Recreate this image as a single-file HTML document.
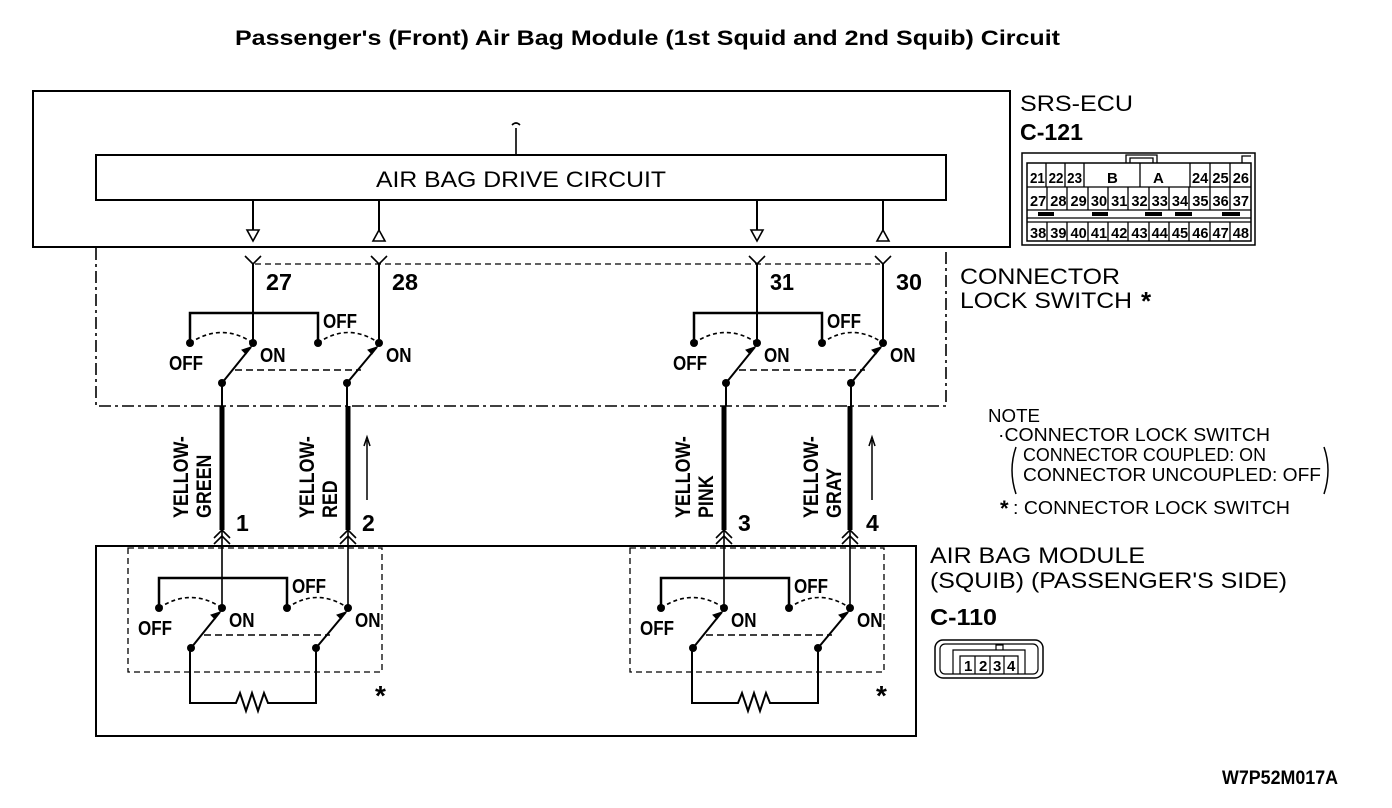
<!DOCTYPE html>
<html><head><meta charset="utf-8"><style>
html,body{margin:0;padding:0;background:#fff;}
svg{display:block;}
text{font-family:"Liberation Sans",sans-serif;fill:#000;}
.b{font-weight:bold;}
</style></head><body>
<svg width="1392" height="808" viewBox="0 0 1392 808" xmlns="http://www.w3.org/2000/svg">
<defs>
<g id="sw" stroke="#000" fill="none">
  <path d="M-63,343 V313 H65 V343" stroke-width="2.5"/>
  <path d="M-63,343 Q-31,322 0,343 M65,343 Q95,322 126,343" stroke-width="1.6" stroke-dasharray="4,3"/>
  <path d="M-18,370 H108" stroke-width="1.6" stroke-dasharray="7,4"/>
  <path d="M-31,383 L-2,347 M94,383 L124,347" stroke-width="2"/>
  <path d="M-2,347 l-9,3 l4,4 z M124,347 l-9,3 l4,4 z" fill="#000"/>
  <g fill="#000" stroke="none">
    <circle cx="-63" cy="343" r="4"/><circle cx="0" cy="343" r="4"/>
    <circle cx="65" cy="343" r="4"/><circle cx="126" cy="343" r="4"/>
    <circle cx="-31" cy="383" r="4"/><circle cx="94" cy="383" r="4"/>
  </g>
  <g stroke="none" fill="#000" font-weight="bold" font-size="20">
    <text transform="translate(-84,370) scale(0.85,1)" font-family="Liberation Sans">OFF</text>
    <text transform="translate(7,362) scale(0.85,1)" font-family="Liberation Sans">ON</text>
    <text transform="translate(70,328) scale(0.85,1)" font-family="Liberation Sans">OFF</text>
    <text transform="translate(133,362) scale(0.85,1)" font-family="Liberation Sans">ON</text>
  </g>
</g>
<g id="up" stroke="#000" fill="none" stroke-width="2">
  <path d="M0,200 V230 M126,200 V230"/>
  <path d="M-6,230 H6 L0,241 Z M120,241 H132 L126,230 Z" stroke-width="1.6"/>
  <path d="M-8,256 L0,264 L8,256 M118,256 L126,264 L134,256" stroke-width="1.6"/>
  <path d="M0,264 V343 M126,264 V343 M-31,383 V406 M94,383 V406"/>
</g>
<g id="low" stroke="#000" fill="none">
  <path d="M0,406 V530 M126,406 V530" stroke-width="5"/>
  <path d="M-8,538 L0,530 L8,538 M-8,544 L0,536 L8,544 M118,538 L126,530 L134,538 M118,544 L126,536 L134,544" stroke-width="1.6"/>
  <path d="M0,530 V608 M126,530 V608" stroke-width="1.6"/>
  <path d="M-32,648 V703 H14 l4,-10 l6,18 l6,-18 l6,18 l6,-18 l4,10 H94 V648" stroke-width="2"/>
  <rect x="-94" y="548" width="254" height="124" stroke-width="1.3" stroke-dasharray="6,4"/>
</g>
</defs>

<text x="235" y="45" class="b" font-size="21" textLength="825" lengthAdjust="spacingAndGlyphs">Passenger's (Front) Air Bag Module (1st Squid and 2nd Squib) Circuit</text>

<rect x="33" y="91" width="977" height="156" fill="none" stroke="#000" stroke-width="2"/>
<path d="M516,128 V155 M512,125 q4,-4 8,0" stroke="#000" stroke-width="1.6" fill="none"/>
<rect x="96" y="155" width="850" height="45" fill="none" stroke="#000" stroke-width="2"/>
<text x="376" y="187" font-size="22" textLength="290" lengthAdjust="spacingAndGlyphs">AIR BAG DRIVE CIRCUIT</text>

<path d="M96,248 V406 H946 V248" fill="none" stroke="#000" stroke-width="1.6" stroke-dasharray="12,4,3,4"/>
<path d="M255,264 H880" stroke="#000" stroke-width="1.3" stroke-dasharray="6,4"/>

<use href="#up" transform="translate(253,0)"/>
<use href="#up" transform="translate(757,0)"/>
<use href="#sw" transform="translate(253,0)"/>
<use href="#sw" transform="translate(757,0)"/>

<g class="b" font-size="23">
<text x="266" y="290" textLength="26" lengthAdjust="spacingAndGlyphs">27</text>
<text x="392" y="290" textLength="26" lengthAdjust="spacingAndGlyphs">28</text>
<text x="770" y="290" textLength="24" lengthAdjust="spacingAndGlyphs">31</text>
<text x="896" y="290" textLength="26" lengthAdjust="spacingAndGlyphs">30</text>
</g>

<text x="960" y="284" font-size="22" textLength="160" lengthAdjust="spacingAndGlyphs">CONNECTOR</text>
<text x="960" y="308" font-size="22" textLength="172" lengthAdjust="spacingAndGlyphs">LOCK SWITCH</text>
<text x="1141" y="310" class="b" font-size="26">*</text>

<rect x="96" y="546" width="820" height="190" fill="none" stroke="#000" stroke-width="2"/>
<use href="#low" transform="translate(222,0)"/>
<use href="#low" transform="translate(724,0)"/>
<use href="#sw" transform="translate(222,265)"/>
<use href="#sw" transform="translate(724,265)"/>
<text x="375" y="705" class="b" font-size="28">*</text>
<text x="876" y="705" class="b" font-size="28">*</text>

<g class="b" font-size="23">
<text x="236" y="531">1</text>
<text x="362" y="531">2</text>
<text x="738" y="531">3</text>
<text x="866" y="531">4</text>
</g>
<g class="b" font-size="21">
<text transform="translate(188,518) rotate(-90) scale(0.85,1)">YELLOW-</text>
<text transform="translate(211,518) rotate(-90) scale(0.85,1)">GREEN</text>
<text transform="translate(314,518) rotate(-90) scale(0.85,1)">YELLOW-</text>
<text transform="translate(337,518) rotate(-90) scale(0.85,1)">RED</text>
<text transform="translate(690,518) rotate(-90) scale(0.85,1)">YELLOW-</text>
<text transform="translate(713,518) rotate(-90) scale(0.85,1)">PINK</text>
<text transform="translate(818,518) rotate(-90) scale(0.85,1)">YELLOW-</text>
<text transform="translate(841,518) rotate(-90) scale(0.85,1)">GRAY</text>
</g>
<path d="M367,500 V440 M872,500 V440" stroke="#000" stroke-width="1.5"/>
<path d="M364,446 L367,437 L370,446 M869,446 L872,437 L875,446" stroke="#000" stroke-width="1.5" fill="none"/>

<text x="1020" y="111" font-size="22" textLength="113" lengthAdjust="spacingAndGlyphs">SRS-ECU</text>
<text x="1020" y="140" class="b" font-size="23" textLength="63" lengthAdjust="spacingAndGlyphs">C-121</text>
<rect x="1022" y="153" width="233" height="92" fill="none" stroke="#000" stroke-width="1.5"/>
<rect x="1027" y="163" width="224" height="78" fill="none" stroke="#000" stroke-width="1.5"/>
<path d="M1126,163 V155 H1157 V163 M1130,163 V158 H1153 V163 M1140,163 V187" stroke="#000" stroke-width="1.3" fill="none"/>
<path d="M1242,163 V156 H1251" stroke="#000" stroke-width="1.3" fill="none"/>
<g stroke="#000" stroke-width="1.3" fill="none">
<path d="M1027,187 H1251 M1027,210 H1251 M1027,218 H1251 M1027,222 H1251"/>
<path d="M1046,163 V187 M1065,163 V187 M1084,163 V187 M1190,163 V187 M1210,163 V187 M1230,163 V187"/>
<path d="M1047,187 V210 M1067,187 V210 M1088,187 V210 M1108,187 V210 M1128,187 V210 M1149,187 V210 M1169,187 V210 M1189,187 V210 M1210,187 V210 M1230,187 V210"/>
<path d="M1047,222 V241 M1067,222 V241 M1088,222 V241 M1108,222 V241 M1128,222 V241 M1149,222 V241 M1169,222 V241 M1189,222 V241 M1210,222 V241 M1230,222 V241"/>
</g>
<path d="M1038,214 H1054 M1092,214 H1108 M1145,214 H1162 M1175,214 H1192 M1222,214 H1240" stroke="#000" stroke-width="4"/>
<g class="b" font-size="15">
<text x="1030" y="183" textLength="52" lengthAdjust="spacingAndGlyphs">21 22 23</text>
<text x="1107" y="183">B</text><text x="1153" y="183">A</text>
<text x="1192" y="183" textLength="57" lengthAdjust="spacingAndGlyphs">24 25 26</text>
<text x="1030" y="206" textLength="219" lengthAdjust="spacingAndGlyphs">27 28 29 30 31 32 33 34 35 36 37</text>
<text x="1030" y="238" textLength="219" lengthAdjust="spacingAndGlyphs">38 39 40 41 42 43 44 45 46 47 48</text>
</g>

<text x="988" y="422" font-size="18" textLength="52" lengthAdjust="spacingAndGlyphs">NOTE</text>
<text x="998" y="441" font-size="18" textLength="272" lengthAdjust="spacingAndGlyphs">·CONNECTOR LOCK SWITCH</text>
<text x="1023" y="461" font-size="18" textLength="243" lengthAdjust="spacingAndGlyphs">CONNECTOR COUPLED: ON</text>
<text x="1023" y="481" font-size="18" textLength="298" lengthAdjust="spacingAndGlyphs">CONNECTOR UNCOUPLED: OFF</text>
<path d="M1016,447 Q1008,470 1016,494 M1324,447 Q1332,470 1324,494" stroke="#000" stroke-width="1.5" fill="none"/>
<text x="1000" y="516" class="b" font-size="22">*</text>
<text x="1013" y="514" font-size="18" textLength="277" lengthAdjust="spacingAndGlyphs">: CONNECTOR LOCK SWITCH</text>

<text x="930" y="563" font-size="22" textLength="215" lengthAdjust="spacingAndGlyphs">AIR BAG MODULE</text>
<text x="930" y="588" font-size="22" textLength="357" lengthAdjust="spacingAndGlyphs">(SQUIB) (PASSENGER'S SIDE)</text>
<text x="930" y="625" class="b" font-size="23" textLength="67" lengthAdjust="spacingAndGlyphs">C-110</text>
<rect x="935" y="640" width="108" height="38" rx="8" fill="none" stroke="#000" stroke-width="1.5"/>
<rect x="940" y="644" width="98" height="30" rx="5" fill="none" stroke="#000" stroke-width="1.2"/>
<path d="M953,674 V650 H1025 V674 M960,674 V656 H1018 V674 M975,674 V656 M990,674 V656 M1004,674 V656 M996,650 V645 H1003 V650" stroke="#000" stroke-width="1.2" fill="none"/>
<g class="b" font-size="15">
<text x="964" y="671">1</text><text x="979" y="671">2</text><text x="993" y="671">3</text><text x="1007" y="671">4</text>
</g>

<text x="1222" y="784" class="b" font-size="19" textLength="116" lengthAdjust="spacingAndGlyphs">W7P52M017A</text>
</svg>
</body></html>
